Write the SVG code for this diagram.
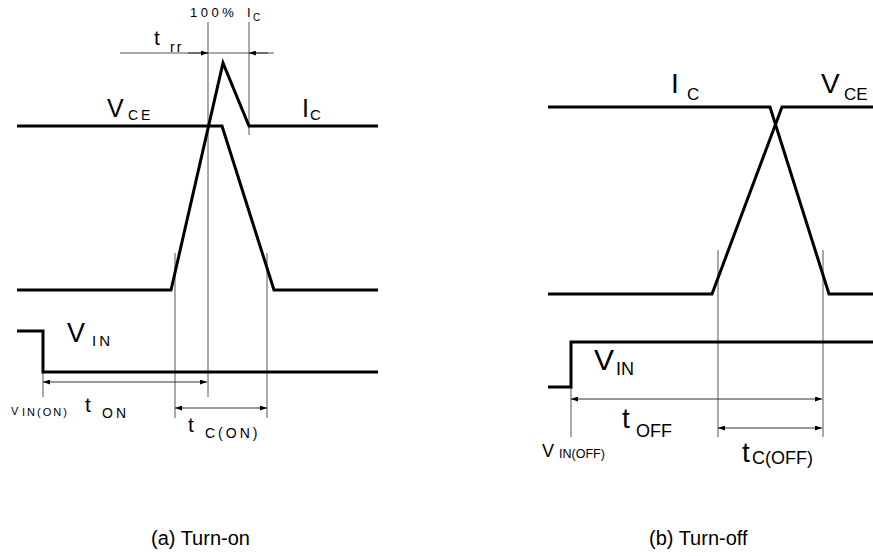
<svg xmlns="http://www.w3.org/2000/svg" width="873" height="556" viewBox="0 0 873 556">
<defs>
<marker id="arr" markerUnits="userSpaceOnUse" markerWidth="7" markerHeight="5" refX="7" refY="2.5" orient="auto-start-reverse">
<path d="M0,0 L7,2.5 L0,5 z" fill="#000"/>
</marker>
</defs>
<style>
.w{fill:none;stroke:#000;stroke-width:3;stroke-linejoin:miter}
.g{fill:none;stroke:#555;stroke-width:1}
.d{fill:none;stroke:#333;stroke-width:1}
.a{font-family:"Liberation Sans",Arial,sans-serif;fill:#000}
.b{font-family:"Liberation Sans",Arial,sans-serif;fill:#000}
.cap{font-family:"Liberation Sans",Arial,sans-serif;font-size:20px;fill:#000}
</style>
<rect width="873" height="556" fill="#fff"/>
<g id="connectors">
<!-- left panel guides -->
<line class="g" x1="208" y1="22" x2="208" y2="397"/>
<line class="g" x1="249" y1="22" x2="249" y2="135"/>
<line class="g" x1="43" y1="372" x2="43" y2="397"/>
<line class="g" x1="175" y1="253" x2="175" y2="418"/>
<line class="g" x1="267" y1="253" x2="267" y2="418"/>
<line class="g" x1="120" y1="53" x2="274" y2="53"/>
<line class="d" x1="188" y1="53" x2="208" y2="53" marker-end="url(#arr)"/>
<line class="d" x1="268" y1="53" x2="249" y2="53" marker-end="url(#arr)"/>
<line class="d" x1="43" y1="382" x2="207" y2="382" marker-start="url(#arr)" marker-end="url(#arr)"/>
<line class="d" x1="175" y1="408" x2="267" y2="408" marker-start="url(#arr)" marker-end="url(#arr)"/>
<!-- right panel guides -->
<line class="g" x1="571" y1="387" x2="571" y2="437"/>
<line class="g" x1="718" y1="250" x2="718" y2="437"/>
<line class="g" x1="823" y1="250" x2="823" y2="437"/>
<line class="d" x1="571" y1="399" x2="822" y2="399" marker-start="url(#arr)" marker-end="url(#arr)"/>
<line class="d" x1="718" y1="428" x2="822" y2="428" marker-start="url(#arr)" marker-end="url(#arr)"/>
</g>
<g id="turn-on-waves">
<polyline class="w" points="17,126 222,126 274,290 378,290"/>
<polyline class="w" points="17,290 171,290 223,63 249,126 378,126"/>
<polyline class="w" points="17,331 43,331 43,372 378,372"/>
</g>
<g id="turn-off-waves">
<polyline class="w" points="548,107 770,107 829,294 873,294"/>
<polyline class="w" points="548,294 712,294 782,107 873,107"/>
<polyline class="w" points="548,387 571,387 571,342 873,342"/>
</g>
<g id="turn-on-labels">
<text class="a" x="190" y="17" font-size="13" letter-spacing="3.5">100%</text>
<text class="a" x="247" y="17" font-size="13">I</text>
<text class="a" x="253" y="21" font-size="10">C</text>
<text class="a" x="154" y="45" font-size="21">t</text>
<text class="a" x="170" y="52" font-size="14" letter-spacing="2">rr</text>
<text class="a" x="107" y="117" font-size="25">V</text>
<text class="a" x="128" y="120" font-size="14" letter-spacing="3">CE</text>
<text class="a" x="302" y="117" font-size="25">I</text>
<text class="a" x="310" y="120" font-size="15">C</text>
<text class="a" x="67" y="342" font-size="27">V</text>
<text class="a" x="92" y="346" font-size="15" letter-spacing="3">IN</text>
<text class="a" x="11" y="415" font-size="11">V</text>
<text class="a" x="22" y="416" font-size="11" letter-spacing="2">IN(ON)</text>
<text class="a" x="85" y="412" font-size="21">t</text>
<text class="a" x="102" y="418" font-size="14" letter-spacing="3">ON</text>
<text class="a" x="188" y="432" font-size="21">t</text>
<text class="a" x="205" y="438" font-size="14" letter-spacing="3">C(ON)</text>
<text class="cap" x="151" y="545">(a) Turn-on</text>
</g>
<g id="turn-off-labels">
<text class="b" x="671" y="93" font-size="28">I</text>
<text class="b" x="687" y="100" font-size="17">C</text>
<text class="b" x="821" y="93" font-size="28">V</text>
<text class="b" x="844" y="100" font-size="17">CE</text>
<text class="b" x="594" y="370" font-size="30">V</text>
<text class="b" x="616" y="375" font-size="18">IN</text>
<text class="b" x="622" y="428" font-size="28">t</text>
<text class="b" x="636" y="437" font-size="18">OFF</text>
<text class="b" x="542" y="457" font-size="18">V</text>
<text class="b" x="559" y="458" font-size="12.5">IN(OFF)</text>
<text class="b" x="742" y="462" font-size="28">t</text>
<text class="b" x="752" y="464" font-size="18">C(OFF)</text>
<text class="cap" x="649" y="545">(b) Turn-off</text>
</g>
</svg>
